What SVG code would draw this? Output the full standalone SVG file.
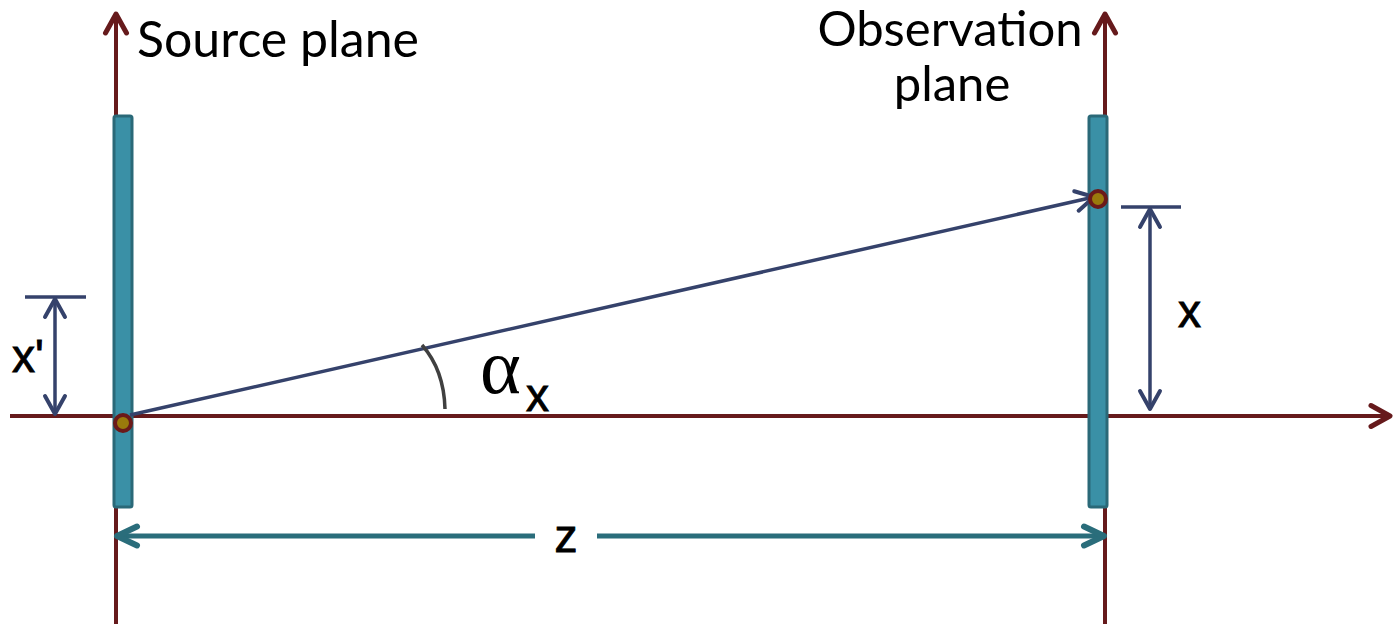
<svg xmlns="http://www.w3.org/2000/svg" width="1394" height="624" viewBox="0 0 1394 624">
<style>
.axis{stroke:#661a1c;stroke-width:4;fill:none}
.navy{stroke:#35426b;stroke-width:3.5;fill:none}
.teal{stroke:#2a6d7b;stroke-width:5;fill:none}
.plate{fill:#3a90a6;stroke:#2a6978;stroke-width:3}
.lbl{font-family:Lato,"Open Sans",sans-serif;fill:#000}
.var{font-family:"Liberation Sans",Arial,sans-serif;fill:#000;stroke:#000;stroke-width:0.9}
</style>
<defs>
<marker id="ar" markerUnits="userSpaceOnUse" markerWidth="30" markerHeight="30" viewBox="-25 -15 30 30" refX="0" refY="0" orient="auto-start-reverse"><path d="M-19,-10.5 L0,0 L-19,10.5" fill="none" stroke="#661a1c" stroke-width="5" stroke-linecap="round" stroke-linejoin="round"/></marker>
<marker id="an" markerUnits="userSpaceOnUse" markerWidth="30" markerHeight="30" viewBox="-25 -15 30 30" refX="0" refY="0" orient="auto-start-reverse"><path d="M-18,-10 L0,0 L-18,10" fill="none" stroke="#35426b" stroke-width="4" stroke-linecap="round" stroke-linejoin="round"/></marker>
<marker id="at" markerUnits="userSpaceOnUse" markerWidth="30" markerHeight="30" viewBox="-25 -15 30 30" refX="0" refY="0" orient="auto-start-reverse"><path d="M-20,-9.5 L0,0 L-20,9.5" fill="none" stroke="#2a6d7b" stroke-width="6" stroke-linecap="round" stroke-linejoin="round"/></marker>
</defs>
<g id="connectors">
<line class="axis" x1="116" y1="624" x2="116" y2="14" marker-end="url(#ar)"/>
<line class="axis" x1="1105" y1="624" x2="1105" y2="14" marker-end="url(#ar)"/>
<line class="axis" x1="10" y1="416" x2="1390" y2="416" marker-end="url(#ar)"/>
</g>
<g id="source-plate"><rect class="plate" x="114" y="116" width="18" height="391" rx="2"/></g>
<g id="observation-plate"><rect class="plate" x="1089" y="116" width="18" height="391" rx="2"/></g>
<g id="dimensions">
<line class="navy" x1="130" y1="415" x2="1094" y2="197" marker-end="url(#an)"/>
<line class="navy" x1="25" y1="297" x2="86" y2="297"/>
<line class="navy" x1="55" y1="299" x2="55" y2="414" marker-start="url(#an)" marker-end="url(#an)"/>
<line class="navy" x1="1121" y1="207" x2="1181" y2="207"/>
<line class="navy" x1="1150" y1="209" x2="1150" y2="409" marker-start="url(#an)" marker-end="url(#an)"/>
<path d="M422,345 Q444,370 445,409" fill="none" stroke="#404040" stroke-width="3.5"/>
<line class="teal" x1="117" y1="536" x2="535" y2="536" marker-start="url(#at)"/>
<line class="teal" x1="597" y1="536" x2="1104" y2="536" marker-end="url(#at)"/>
</g>
<g id="source-point"><circle cx="123" cy="423" r="8" fill="#9a7a0c" stroke="#6b1a1a" stroke-width="4"/></g>
<g id="observation-point"><circle cx="1098" cy="199" r="8" fill="#9a7a0c" stroke="#6b1a1a" stroke-width="4"/></g>
<g id="labels">
<text class="lbl" x="137" y="57" font-size="50">Source plane</text>
<text class="lbl" x="950" y="46" font-size="49" text-anchor="middle">Observation</text>
<text class="lbl" x="952" y="101" font-size="49" text-anchor="middle">plane</text>
<text class="var" x="12" y="372" font-size="46">x'</text>
<text class="var" x="1178" y="327" font-size="46">x</text>
<text class="var" x="566" y="552" font-size="46" text-anchor="middle">z</text>
<text font-family="'Liberation Serif',serif" x="480" y="393" font-size="78" fill="#000">α</text>
<text class="var" x="526" y="411" font-size="46">x</text>
</g>
</svg>
